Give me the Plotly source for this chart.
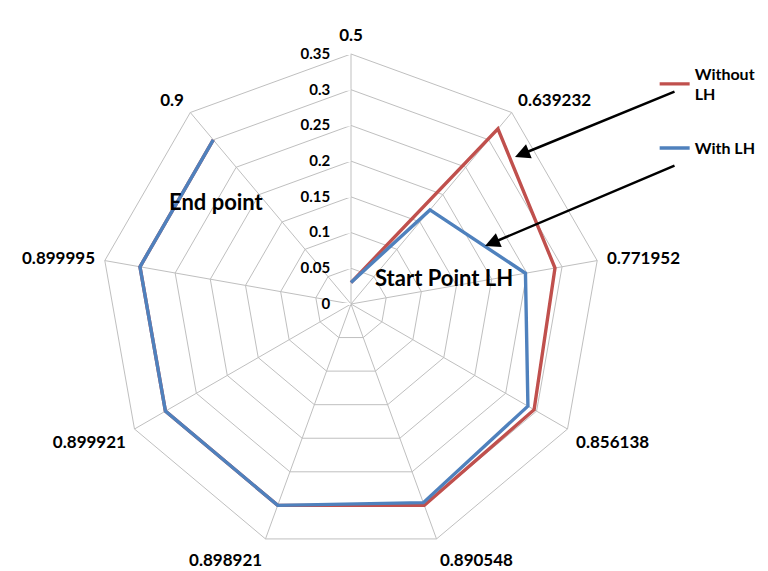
import plotly.graph_objects as go

categories = ["0.5", "0.639232", "0.771952", "0.856138", "0.890548",
              "0.898921", "0.899921", "0.899995", "0.9"]
without_lh = [0.03, 0.32, 0.29, 0.296, 0.30, 0.30, 0.30, 0.30, 0.30]
with_lh = [0.03, 0.172, 0.248, 0.286, 0.296, 0.30, 0.30, 0.30, 0.30]
radial_ticks = [0, 0.05, 0.1, 0.15, 0.2, 0.25, 0.3, 0.35]

FONT = "Lato"
RED = "#C0504D"
BLUE = "#4F81BD"
GRID = "#BFBFBF"

fig = go.Figure()
fig.add_trace(go.Scatterpolar(r=without_lh, theta=categories, mode="lines",
                              name="Without<br>LH", line=dict(color=RED, width=3.4),
                              legendgroup="a"))
fig.add_trace(go.Scatterpolar(r=with_lh, theta=categories, mode="lines",
                              name="With LH", line=dict(color=BLUE, width=3.4),
                              legendgroup="b"))

W, H = 768, 571
cx, cy, R = 343, 296, 250
fig.update_layout(
    width=W, height=H,
    margin=dict(l=0, r=0, t=0, b=0),
    paper_bgcolor="white",
    font=dict(family=FONT, size=15, color="black"),
    polar=dict(
        domain=dict(x=[(cx - R) / W, (cx + R) / W],
                    y=[(H - cy - R) / H, (H - cy + R) / H]),
        bgcolor="white",
        gridshape="linear",
        radialaxis=dict(range=[0, 0.35], tickvals=radial_ticks,
                        ticktext=[str(v) for v in radial_ticks],
                        angle=90, tickangle=90, side="counterclockwise",
                        showline=False, gridcolor=GRID, gridwidth=1,
                        ticks="outside", ticklen=15, tickwidth=2, tickcolor="white",
                        tickfont=dict(family=FONT, size=15, color="black",
                                      weight="bold")),
        angularaxis=dict(rotation=90, direction="clockwise",
                         categoryorder="array", categoryarray=categories,
                         showline=True, linecolor=GRID, linewidth=1,
                         gridcolor=GRID, gridwidth=1,
                         ticks="outside", ticklen=6, tickcolor="rgba(0,0,0,0)",
                         tickfont=dict(family=FONT, size=17, color="black",
                                       weight="bold")),
    ),
    legend=dict(x=0.842, y=0.915, xanchor="left", yanchor="top",
                font=dict(family=FONT, size=16, color="black", weight="bold"),
                tracegroupgap=30, itemwidth=30, bgcolor="rgba(0,0,0,0)"),
    annotations=[
        dict(x=436 / W, y=1 - 270 / H, xref="paper", yref="paper",
             xanchor="center", yanchor="middle",
             text="<b>Start Point LH</b>", showarrow=False,
             font=dict(family=FONT, size=22, color="black")),
        dict(x=208 / W, y=1 - 193 / H, xref="paper", yref="paper",
             xanchor="center", yanchor="middle",
             text="<b>End point</b>", showarrow=False,
             font=dict(family=FONT, size=22, color="black")),
        dict(x=507 / W, y=1 - 149 / H, xref="paper", yref="paper",
             text="", showarrow=True, ax=161, ay=-66, arrowhead=2,
             arrowsize=1.2, arrowwidth=2.5, arrowcolor="black"),
        dict(x=477 / W, y=1 - 238 / H, xref="paper", yref="paper",
             text="", showarrow=True, ax=191, ay=-81, arrowhead=2,
             arrowsize=1.2, arrowwidth=2.5, arrowcolor="black"),
    ],
)

fig.write_html("out.html")
